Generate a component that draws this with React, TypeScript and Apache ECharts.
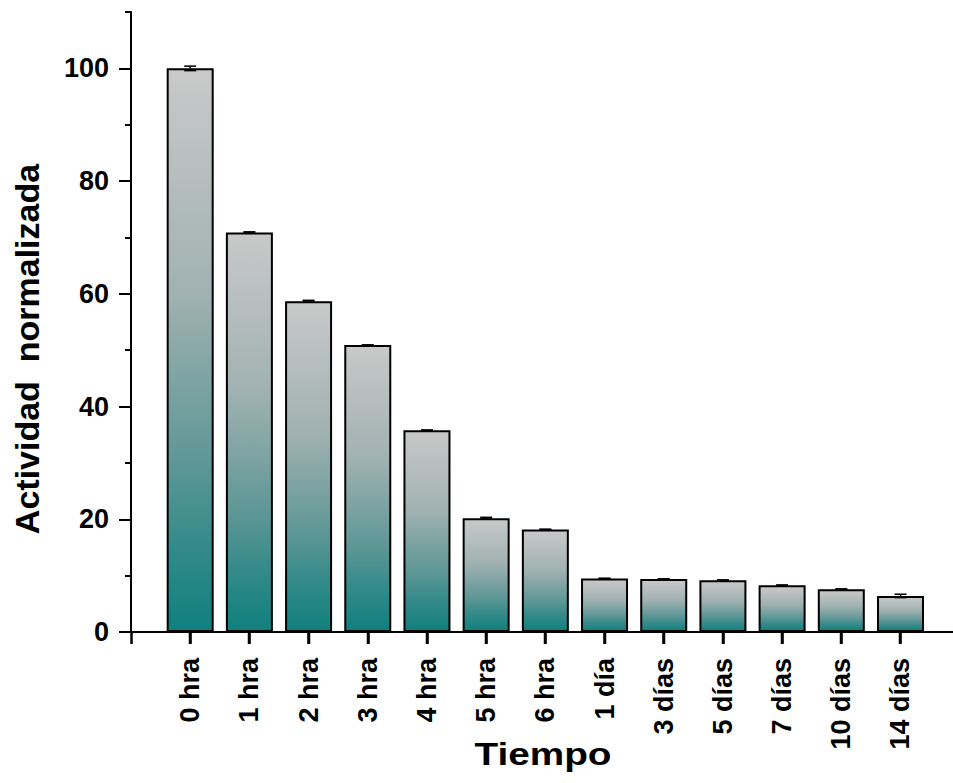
import React, { useEffect, useRef } from "react";
import * as echarts from "echarts";

// Normalised enzyme activity over storage time
const categories = [
  "0 hra", "1 hra", "2 hra", "3 hra", "4 hra", "5 hra", "6 hra",
  "1 día", "3 días", "5 días", "7 días", "10 días", "14 días",
];
const activity = [100, 70.9, 58.7, 50.9, 35.8, 20.2, 18.2, 9.5, 9.4, 9.2, 8.3, 7.6, 6.4];
const errors = [0.4, 0.1, 0.15, 0.05, 0.05, 0.15, 0.05, 0.05, 0.05, 0.05, 0.05, 0.05, 0.3];
const yMajorTicks = [0, 20, 40, 60, 80, 100];
const xTickPositions = [-1, 0, 1, 2, 3, 4, 5, 6, 7, 8, 9, 10, 11, 12];

const FONT = '"Liberation Sans", Arial, Helvetica, sans-serif';

export default function App() {
  const ref = useRef<HTMLDivElement>(null);

  useEffect(() => {
    if (!ref.current) return;
    const chart = echarts.init(ref.current, null, { renderer: "svg" });

    const barFill = new echarts.graphic.LinearGradient(0, 0, 0, 1, [
      { offset: 0, color: "#c9c9c9" },
      { offset: 0.4, color: "#a0b1b1" },
      { offset: 0.7, color: "#5e9796" },
      { offset: 0.85, color: "#338a89" },
      { offset: 1, color: "#10807e" },
    ]);

    const option: any = {
      animation: false,
      backgroundColor: "#ffffff",
      grid: { left: 131, right: 0, top: 12, bottom: 151, containLabel: false },
      xAxis: {
        type: "value",
        min: -1,
        max: 12.887,
        interval: 1,
        z: 10,
        splitLine: { show: false },
        axisLine: { show: true, onZero: false, lineStyle: { color: "#000", width: 2 } },
        axisTick: {
          show: true,
          customValues: xTickPositions,
          length: 12,
          lineStyle: { color: "#000", width: 2.5 },
        },
        axisLabel: {
          formatter: (v: number) => {
            const i = Math.round(v);
            return Math.abs(v - i) < 1e-6 && i >= 0 && i < categories.length ? categories[i] : "";
          },
          rotate: 90,
          margin: 26,
          color: "#000",
          fontSize: 27,
          fontWeight: "bold",
          fontFamily: FONT,
        },
      },
      yAxis: [
        {
          type: "value",
          min: 0,
          max: 110,
          interval: 10,
          position: "left",
          z: 10,
          splitLine: { show: false },
          axisLine: { show: true, onZero: false, lineStyle: { color: "#000", width: 2 } },
          axisTick: { show: true, length: 6, lineStyle: { color: "#000", width: 2 } },
          axisLabel: {
            customValues: yMajorTicks,
            margin: 22,
            color: "#000",
            fontSize: 27,
            fontWeight: "bold",
            fontFamily: FONT,
          },
        },
        {
          type: "value",
          min: 0,
          max: 110,
          interval: 10,
          position: "left",
          z: 10,
          splitLine: { show: false },
          axisLine: { show: false, onZero: false },
          axisTick: {
            show: true,
            customValues: yMajorTicks,
            length: 12,
            lineStyle: { color: "#000", width: 2 },
          },
          axisLabel: { show: false },
        },
      ],
      graphic: [
        {
          type: "text",
          x: 27,
          y: 349,
          rotation: Math.PI / 2,
          style: {
            text: "Actividad  normalizada",
            fontSize: 34,
            fontWeight: "bold",
            fontFamily: FONT,
            fill: "#000",
            align: "center",
            verticalAlign: "middle",
          },
        },
        {
          type: "text",
          x: 543,
          y: 754,
          scaleX: 1.25,
          style: {
            text: "Tiempo",
            fontSize: 31,
            fontWeight: "bold",
            fontFamily: FONT,
            fill: "#000",
            align: "center",
            verticalAlign: "middle",
          },
        },
      ],
      series: [
        {
          type: "bar",
          xAxisIndex: 0,
          yAxisIndex: 0,
          barWidth: 47,
          data: activity.map((v, i) => [i, v]),
          itemStyle: { color: barFill, borderColor: "#000", borderWidth: 2 },
          z: 2,
        },
        {
          // error bars with caps
          type: "custom",
          xAxisIndex: 0,
          yAxisIndex: 0,
          z: 3,
          data: errors.map((e, i) => [i, activity[i] + e, activity[i] - e]),
          encode: { x: 0, y: [1, 2] },
          renderItem: (_params: any, api: any) => {
            const x = api.value(0);
            const hi = api.coord([x, api.value(1)]);
            const lo = api.coord([x, api.value(2)]);
            const half = 6;
            const style = { stroke: "#000", lineWidth: 1.5 };
            return {
              type: "group",
              children: [
                { type: "line", shape: { x1: hi[0], y1: hi[1], x2: lo[0], y2: lo[1] }, style },
                { type: "line", shape: { x1: hi[0] - half, y1: hi[1], x2: hi[0] + half, y2: hi[1] }, style },
                { type: "line", shape: { x1: lo[0] - half, y1: lo[1], x2: lo[0] + half, y2: lo[1] }, style },
              ],
            };
          },
        },
        {
          // solid category tick marks hanging below the baseline
          type: "custom",
          xAxisIndex: 0,
          yAxisIndex: 0,
          z: 4,
          clip: false,
          silent: true,
          data: categories.map((_c, i) => [i, 0]),
          encode: { x: 0, y: 1 },
          renderItem: (_params: any, api: any) => {
            const p = api.coord([api.value(0), 0]);
            return {
              type: "rect",
              shape: { x: Math.round(p[0]) - 1.25, y: p[1], width: 2.5, height: 12 },
              style: { fill: "#000" },
            };
          },
        },
      ],
    };

    chart.setOption(option);
    return () => chart.dispose();
  }, []);

  return (
    <div
      ref={ref}
      style={{ position: "fixed", left: 0, top: 0, width: 953, height: 783, background: "#fff", overflow: "hidden" }}
    />
  );
}
